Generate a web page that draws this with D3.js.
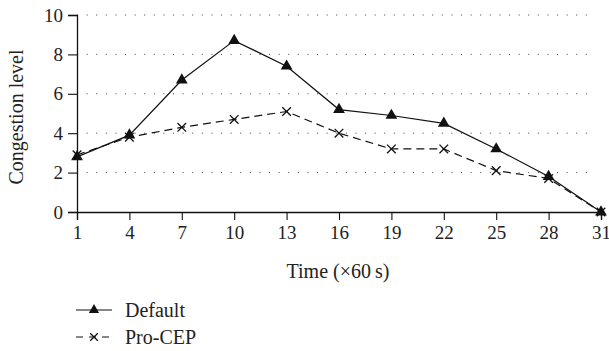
<!DOCTYPE html>
<html>
<head>
<meta charset="utf-8">
<script src="https://cdn.jsdelivr.net/npm/d3@7"></script>
<style>
  body { margin: 0; background: #fff; }
  svg text { font-family: "Liberation Serif", "DejaVu Serif", serif; fill: #222; }
</style>
</head>
<body>
<div id="chart"></div>
<script>
var times = [1, 4, 7, 10, 13, 16, 19, 22, 25, 28, 31];
var defaultVals = [2.8, 3.9, 6.7, 8.7, 7.4, 5.2, 4.9, 4.5, 3.2, 1.8, 0];
var proCepVals = [2.9, 3.8, 4.3, 4.7, 5.1, 4.0, 3.2, 3.2, 2.1, 1.7, 0];
var yTicks = [0, 2, 4, 6, 8, 10];
var seriesNames = ["Default", "Pro-CEP"];

(function() {
	var width = 609, height = 351,
		margin = { top: 15, left: 77 },
		innerW = 601 - margin.left,
		innerH = 212 - margin.top;

	var svg = d3.select("#chart").append("svg")
		.attr("width", width)
		.attr("height", height);

	var g = svg.append("g")
		.attr("transform", `translate(${margin.left},${margin.top})`);

	var x = d3.scaleLinear().domain([1, 31]).range([0, innerW]);
	var y = d3.scaleLinear().domain([0, 10]).range([innerH, 0]);

	// dotted grid
	g.selectAll(".grid")
		.data(yTicks.filter(d => d > 0))
		.join("line")
		.attr("x1", 0)
		.attr("x2", 517)
		.attr("y1", d => y(d))
		.attr("y2", d => y(d))
		.attr("stroke", "#444")
		.attr("stroke-width", 1)
		.attr("stroke-dasharray", "1,8.6");

	var xAxis = g.append("g")
		.attr("transform", `translate(0,${innerH})`)
		.call(d3.axisBottom(x).tickValues(times).tickSize(8).tickPadding(6).tickFormat(d3.format("d")));
	var yAxis = g.append("g")
		.call(d3.axisLeft(y).tickValues(yTicks).tickSize(9).tickPadding(5));

	[xAxis, yAxis].forEach(function(ax) {
		ax.select(".domain").attr("stroke", "#111").attr("stroke-width", 1.3);
		ax.selectAll(".tick line").attr("stroke", "#111").attr("stroke-width", 1.1);
		ax.selectAll("text").style("font-size", "19px").attr("fill", "#222")
			.style("font-family", '"Liberation Serif", serif');
	});

	// axis titles
	svg.append("text")
		.attr("x", 338)
		.attr("y", 278)
		.attr("text-anchor", "middle")
		.style("font-size", "20px")
		.text("Time (\u00d760\u2009s)");

	svg.append("text")
		.attr("transform", "translate(23,117) rotate(-90)")
		.attr("text-anchor", "middle")
		.style("font-size", "20px")
		.text("Congestion level");

	var line = d3.line()
		.x((d, i) => x(times[i]))
		.y(d => y(d));

	g.append("path")
		.datum(proCepVals)
		.attr("d", line)
		.attr("fill", "none")
		.attr("stroke", "#111")
		.attr("stroke-width", 1.2)
		.attr("stroke-dasharray", "8,5");

	g.append("path")
		.datum(defaultVals)
		.attr("d", line)
		.attr("fill", "none")
		.attr("stroke", "#111")
		.attr("stroke-width", 1.2);

	var tri = d3.symbol().type(d3.symbolTriangle).size(60);
	var cross = d3.symbol().type(d3.symbolTimes).size(50);

	g.selectAll(".cross")
		.data(proCepVals)
		.join("path")
		.attr("d", cross)
		.attr("transform", (d, i) => `translate(${x(times[i])},${y(d)})`)
		.attr("fill", "none")
		.attr("stroke", "#111")
		.attr("stroke-width", 1.3);

	g.selectAll(".tri")
		.data(defaultVals)
		.join("path")
		.attr("d", tri)
		.attr("transform", (d, i) => `translate(${x(times[i])},${y(d)})`)
		.attr("fill", "#111");

	// legend
	var legend = svg.append("g").attr("transform", "translate(76,310)");
	seriesNames.forEach(function(name, i) {
		var row = legend.append("g").attr("transform", `translate(0,${i * 27})`);
		row.append("line")
			.attr("x1", 0).attr("x2", 36)
			.attr("stroke", "#111")
			.attr("stroke-width", 1.2)
			.attr("stroke-dasharray", i === 1 ? "7,6" : null);
		row.append("path")
			.attr("d", i === 0 ? d3.symbol().type(d3.symbolTriangle).size(45)() : d3.symbol().type(d3.symbolTimes).size(40)())
			.attr("transform", "translate(18,0)")
			.attr("fill", i === 0 ? "#111" : "none")
			.attr("stroke", i === 1 ? "#111" : null)
			.attr("stroke-width", 1.3);
		row.append("text")
			.attr("x", 49)
			.attr("y", 7)
			.style("font-size", "20px")
			.text(name);
	});
})();
</script>
</body>
</html>
